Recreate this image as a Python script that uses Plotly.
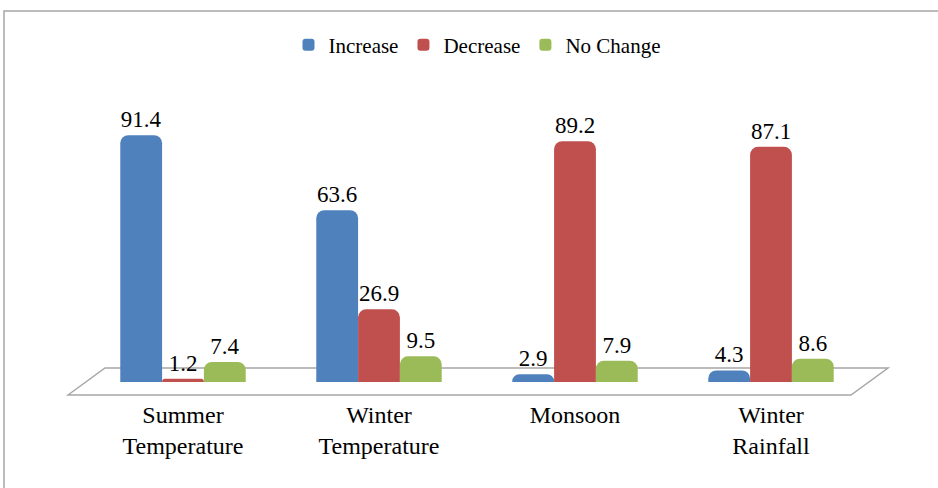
import plotly.graph_objects as go

categories = ["Summer<br>Temperature", "Winter<br>Temperature", "Monsoon", "Winter<br>Rainfall"]
increase = [91.4, 63.6, 2.9, 4.3]
decrease = [1.2, 26.9, 89.2, 87.1]
no_change = [7.4, 9.5, 7.9, 8.6]

W, H = 938, 488
L, R, T, B = 85, 69, 112, 106
PW, PH = W - L - R, H - T - B


def px(x):
    return (x - L) / PW


def py(y):
    return (H - B - y) / PH


font_family = "Liberation Serif, Times New Roman, serif"

fig = go.Figure()
for name, vals, col in [("Increase", increase, "#4F81BD"),
                        ("Decrease", decrease, "#C0504D"),
                        ("No Change", no_change, "#9BBB59")]:
    fig.add_trace(go.Bar(
        x=categories, y=vals, name=name,
        marker=dict(color=col, line=dict(width=0), cornerradius=8),
        text=[f"{v}" for v in vals], textposition="outside",
        textfont=dict(size=23, color="black", family=font_family),
        cliponaxis=False,
    ))

floor = (f"M {px(68)},{py(395)} L {px(105)},{py(368)} "
         f"L {px(888)},{py(368)} L {px(851)},{py(395)} Z")

fig.update_layout(
    width=W, height=H,
    margin=dict(l=L, r=R, t=T, b=B, autoexpand=False),
    paper_bgcolor="white", plot_bgcolor="rgba(0,0,0,0)",
    barmode="group", bargap=0.36, bargroupgap=0,
    font=dict(family=font_family, color="black"),
    showlegend=True,
    legend=dict(orientation="h", x=0.5, xanchor="center", y=py(45), yanchor="middle",
                font=dict(size=21, family=font_family), itemwidth=30,
                traceorder="normal"),
    xaxis=dict(showgrid=False, showline=False, zeroline=False, ticks="", automargin=False,
               tickfont=dict(size=24, family=font_family), ticklabelstandoff=16),
    yaxis=dict(range=[0, 100], visible=False, showgrid=False, zeroline=False, automargin=False),
    shapes=[
        dict(type="path", path=floor, xref="paper", yref="paper",
             line=dict(color="#a6a6a6", width=1.5), fillcolor="white", layer="below"),
        dict(type="rect", xref="paper", yref="paper",
             x0=px(4), x1=px(960), y0=py(520), y1=py(11),
             line=dict(color="#a6a6a6", width=1.5), layer="below"),
    ],
)

fig.write_html("out.html", config={"displayModeBar": False},
               post_script="document.body.style.margin='0';document.body.style.overflow='hidden';")
